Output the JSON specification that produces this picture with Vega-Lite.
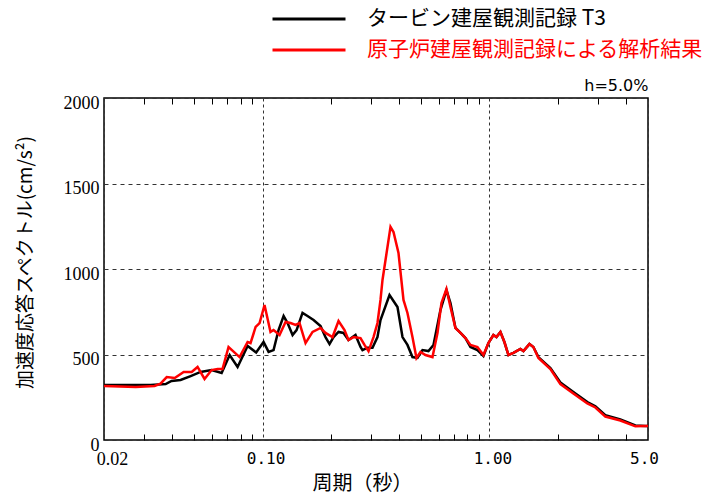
{
  "$schema": "https://vega.github.io/schema/vega-lite/v6.json",
  "width": 544,
  "height": 342,
  "autosize": {"type": "none"},
  "padding": {"left": 104, "top": 98, "right": 62, "bottom": 57},
  "background": "white",
  "config": {
    "view": {"stroke": "black", "strokeWidth": 1.5},
    "font": "Noto Sans CJK JP",
    "axis": {"labelColor": "black", "titleColor": "black"}
  },
  "datasets": {
    "d": [
      {"s":"T","p":0.02,"v":322},{"s":"T","p":0.0237,"v":322},{"s":"T","p":0.0321,"v":322},{"s":"T","p":0.0374,"v":327},{"s":"T","p":0.0397,"v":345},{"s":"T","p":0.0435,"v":351},{"s":"T","p":0.0482,"v":374},{"s":"T","p":0.0533,"v":398},{"s":"T","p":0.0596,"v":409},{"s":"T","p":0.066,"v":392},{"s":"T","p":0.0716,"v":497},{"s":"T","p":0.0776,"v":427},{"s":"T","p":0.0859,"v":550},{"s":"T","p":0.0937,"v":512},{"s":"T","p":0.101,"v":573},{"s":"T","p":0.1063,"v":515},{"s":"T","p":0.1118,"v":526},{"s":"T","p":0.1176,"v":643},{"s":"T","p":0.1238,"v":725},{"s":"T","p":0.1289,"v":684},{"s":"T","p":0.1356,"v":614},{"s":"T","p":0.1412,"v":643},{"s":"T","p":0.15,"v":743},{"s":"T","p":0.1578,"v":725},{"s":"T","p":0.1678,"v":702},{"s":"T","p":0.1801,"v":667},{"s":"T","p":0.1894,"v":602},{"s":"T","p":0.1973,"v":561},{"s":"T","p":0.2055,"v":602},{"s":"T","p":0.2162,"v":632},{"s":"T","p":0.2274,"v":626},{"s":"T","p":0.2392,"v":585},{"s":"T","p":0.2568,"v":614},{"s":"T","p":0.2702,"v":544},{"s":"T","p":0.2757,"v":526},{"s":"T","p":0.2902,"v":540},{"s":"T","p":0.3052,"v":540},{"s":"T","p":0.321,"v":602},{"s":"T","p":0.331,"v":702},{"s":"T","p":0.3627,"v":848},{"s":"T","p":0.3933,"v":778},{"s":"T","p":0.4138,"v":602},{"s":"T","p":0.4352,"v":556},{"s":"T","p":0.4578,"v":485},{"s":"T","p":0.4817,"v":480},{"s":"T","p":0.5069,"v":526},{"s":"T","p":0.5386,"v":520},{"s":"T","p":0.5667,"v":556},{"s":"T","p":0.6082,"v":760},{"s":"T","p":0.6464,"v":877},{"s":"T","p":0.6733,"v":801},{"s":"T","p":0.7083,"v":655},{"s":"T","p":0.7455,"v":626},{"s":"T","p":0.784,"v":596},{"s":"T","p":0.8249,"v":544},{"s":"T","p":0.8854,"v":526},{"s":"T","p":0.941,"v":491},{"s":"T","p":0.9899,"v":567},{"s":"T","p":1.041,"v":614},{"s":"T","p":1.074,"v":602},{"s":"T","p":1.118,"v":632},{"s":"T","p":1.164,"v":573},{"s":"T","p":1.213,"v":497},{"s":"T","p":1.276,"v":509},{"s":"T","p":1.369,"v":532},{"s":"T","p":1.412,"v":520},{"s":"T","p":1.501,"v":561},{"s":"T","p":1.562,"v":544},{"s":"T","p":1.644,"v":485},{"s":"T","p":1.857,"v":421},{"s":"T","p":2.055,"v":336},{"s":"T","p":2.344,"v":280},{"s":"T","p":2.702,"v":222},{"s":"T","p":2.931,"v":197},{"s":"T","p":3.243,"v":145},{"s":"T","p":3.776,"v":120},{"s":"T","p":4.398,"v":85},{"s":"T","p":4.867,"v":82},{"s":"T","p":5.0,"v":82},
      {"s":"R","p":0.02,"v":316},{"s":"R","p":0.0276,"v":310},{"s":"R","p":0.0334,"v":316},{"s":"R","p":0.0355,"v":330},{"s":"R","p":0.0378,"v":368},{"s":"R","p":0.041,"v":363},{"s":"R","p":0.0449,"v":398},{"s":"R","p":0.0487,"v":398},{"s":"R","p":0.0517,"v":427},{"s":"R","p":0.0555,"v":357},{"s":"R","p":0.0596,"v":409},{"s":"R","p":0.0634,"v":415},{"s":"R","p":0.0666,"v":415},{"s":"R","p":0.0708,"v":544},{"s":"R","p":0.0792,"v":485},{"s":"R","p":0.0859,"v":573},{"s":"R","p":0.0885,"v":567},{"s":"R","p":0.0932,"v":661},{"s":"R","p":0.097,"v":684},{"s":"R","p":0.102,"v":789},{"s":"R","p":0.1084,"v":632},{"s":"R","p":0.1118,"v":643},{"s":"R","p":0.1188,"v":614},{"s":"R","p":0.1263,"v":690},{"s":"R","p":0.1328,"v":684},{"s":"R","p":0.1398,"v":673},{"s":"R","p":0.1455,"v":684},{"s":"R","p":0.1547,"v":567},{"s":"R","p":0.1661,"v":632},{"s":"R","p":0.1801,"v":655},{"s":"R","p":0.1894,"v":626},{"s":"R","p":0.2034,"v":602},{"s":"R","p":0.2162,"v":696},{"s":"R","p":0.2297,"v":643},{"s":"R","p":0.2392,"v":585},{"s":"R","p":0.2517,"v":602},{"s":"R","p":0.2702,"v":596},{"s":"R","p":0.2814,"v":556},{"s":"R","p":0.2931,"v":520},{"s":"R","p":0.3083,"v":602},{"s":"R","p":0.321,"v":684},{"s":"R","p":0.331,"v":819},{"s":"R","p":0.3378,"v":936},{"s":"R","p":0.3664,"v":1246},{"s":"R","p":0.3777,"v":1216},{"s":"R","p":0.3973,"v":1094},{"s":"R","p":0.418,"v":819},{"s":"R","p":0.4352,"v":743},{"s":"R","p":0.4578,"v":602},{"s":"R","p":0.4768,"v":480},{"s":"R","p":0.4967,"v":515},{"s":"R","p":0.5225,"v":497},{"s":"R","p":0.561,"v":485},{"s":"R","p":0.5902,"v":626},{"s":"R","p":0.6144,"v":801},{"s":"R","p":0.6464,"v":883},{"s":"R","p":0.6733,"v":778},{"s":"R","p":0.7083,"v":655},{"s":"R","p":0.7455,"v":626},{"s":"R","p":0.784,"v":596},{"s":"R","p":0.8249,"v":556},{"s":"R","p":0.8854,"v":544},{"s":"R","p":0.941,"v":497},{"s":"R","p":0.9899,"v":567},{"s":"R","p":1.041,"v":614},{"s":"R","p":1.074,"v":602},{"s":"R","p":1.118,"v":632},{"s":"R","p":1.164,"v":573},{"s":"R","p":1.213,"v":497},{"s":"R","p":1.276,"v":509},{"s":"R","p":1.369,"v":532},{"s":"R","p":1.412,"v":520},{"s":"R","p":1.501,"v":561},{"s":"R","p":1.562,"v":544},{"s":"R","p":1.644,"v":480},{"s":"R","p":1.857,"v":415},{"s":"R","p":2.055,"v":327},{"s":"R","p":2.344,"v":272},{"s":"R","p":2.702,"v":214},{"s":"R","p":2.931,"v":190},{"s":"R","p":3.243,"v":137},{"s":"R","p":3.776,"v":114},{"s":"R","p":4.398,"v":80},{"s":"R","p":4.867,"v":82},{"s":"R","p":5.0,"v":82}
    ]
  },
  "data": {"name": "d"},
  "resolve": {"scale": {"x": "independent"}, "axis": {"x": "independent"}},
  "layer": [
    {
      "transform": [{"filter": "datum.s == 'T'"}],
      "mark": {"type": "line", "strokeWidth": 2.5},
      "encoding": {
        "x": {
          "field": "p", "type": "quantitative",
          "scale": {"type": "log", "domain": [0.02, 5], "nice": false},
          "axis": {
            "orient": "bottom",
            "values": [0.02, 0.1, 1, 5],
            "labelExpr": "datum.value == 0.02 ? '0.02' : datum.value == 0.1 ? '0.10' : datum.value == 1 ? '1.00' : '5.0'",
            "labelFont": {"condition": {"test": "datum.value == 0.02", "value": "Liberation Serif"}, "value": "DejaVu Sans Mono"},
            "labelFontSize": {"condition": {"test": "datum.value == 0.02", "value": 18}, "value": 16},
            "labelOffset": {"condition": [{"test": "datum.value < 0.05", "value": 8}, {"test": "datum.value > 4", "value": -4}], "value": 3},
            "labelPadding": 10,
            "labelOverlap": false,
            "labelBound": false,
            "labelFlush": false,
            "ticks": false,
            "domain": false,
            "grid": true,
            "gridColor": "#333333",
            "gridDash": [3, 3],
            "gridWidth": 1,
            "title": "周期（秒）",
            "titleFont": "Noto Sans CJK JP",
            "titleFontSize": 20,
            "titleFontWeight": "normal",
            "titleX": 258,
            "titleY": 43,
            "titleAlign": "center",
            "titleBaseline": "middle"
          }
        },
        "y": {
          "field": "v", "type": "quantitative",
          "scale": {"domain": [0, 2000], "nice": false},
          "axis": {
            "values": [0, 500, 1000, 1500, 2000],
            "format": "d",
            "labelFont": "Liberation Serif",
            "labelFontSize": 18,
            "labelPadding": 5,
            "labelOffset": 5,
            "ticks": false,
            "domain": false,
            "grid": true,
            "gridColor": "#333333",
            "gridDash": [4, 4],
            "gridWidth": 1,
            "title": "加速度応答スペクトル(cm/s²)",
            "titleFont": "Noto Sans CJK JP",
            "titleFontSize": 19,
            "titleFontWeight": "normal",
            "titleAngle": -90,
            "titleX": -79,
            "titleY": 164,
            "titleAlign": "center",
            "titleBaseline": "middle"
          }
        },
        "color": {
          "field": "s", "type": "nominal",
          "scale": {"domain": ["T", "R"], "range": ["black", "red"]},
          "legend": {
            "orient": "none",
            "direction": "vertical",
            "legendX": 167,
            "legendY": -90,
            "title": null,
            "padding": 0,
            "symbolType": "stroke",
            "symbolSize": 5329,
            "symbolStrokeWidth": 3,
            "clipHeight": 22,
            "rowPadding": 9,
            "labelOffset": 20,
            "labelFont": "Noto Sans CJK JP",
            "labelFontSize": 21,
            "labelLimit": 0,
            "labelExpr": "datum.value == 'T' ? 'タービン建屋観測記録 T3' : '原子炉建屋観測記録による解析結果'",
            "encode": {"labels": {"update": {"fill": {"signal": "datum.value == 'R' ? 'red' : 'black'"}}}}
          }
        }
      }
    },
    {
      "transform": [{"filter": "datum.s == 'R'"}],
      "mark": {"type": "line", "strokeWidth": 2.5},
      "encoding": {
        "x": {
          "field": "p", "type": "quantitative",
          "scale": {"type": "log", "domain": [0.02, 5], "nice": false},
          "axis": {
            "orient": "bottom",
            "offset": -6,
            "values": [0.03, 0.04, 0.05, 0.06, 0.07, 0.08, 0.09, 0.2, 0.3, 0.4, 0.5, 0.6, 0.7, 0.8, 0.9, 2, 3, 4],
            "labels": false, "grid": false, "domain": false,
            "ticks": true, "tickSize": 6, "tickColor": "black", "tickWidth": 1,
            "title": null
          }
        },
        "y": {"field": "v", "type": "quantitative"},
        "color": {"field": "s", "type": "nominal"}
      }
    },
    {
      "mark": {"type": "point", "opacity": 0},
      "encoding": {
        "x": {
          "field": "p", "type": "quantitative",
          "scale": {"type": "log", "domain": [0.02, 5], "nice": false},
          "axis": {
            "orient": "top",
            "offset": -6,
            "values": [0.03, 0.04, 0.05, 0.06, 0.07, 0.08, 0.09, 0.2, 0.3, 0.4, 0.5, 0.6, 0.7, 0.8, 0.9, 2, 3, 4],
            "labels": false, "grid": false, "domain": false,
            "ticks": true, "tickSize": 6, "tickColor": "black", "tickWidth": 1,
            "title": "h=5.0%",
            "titleFont": "DejaVu Sans",
            "titleFontSize": 16,
            "titleFontWeight": "normal",
            "titleX": 544,
            "titleY": -19,
            "titleAlign": "right",
            "titleBaseline": "middle"
          }
        },
        "y": {"field": "v", "type": "quantitative"}
      }
    }
  ]
}
